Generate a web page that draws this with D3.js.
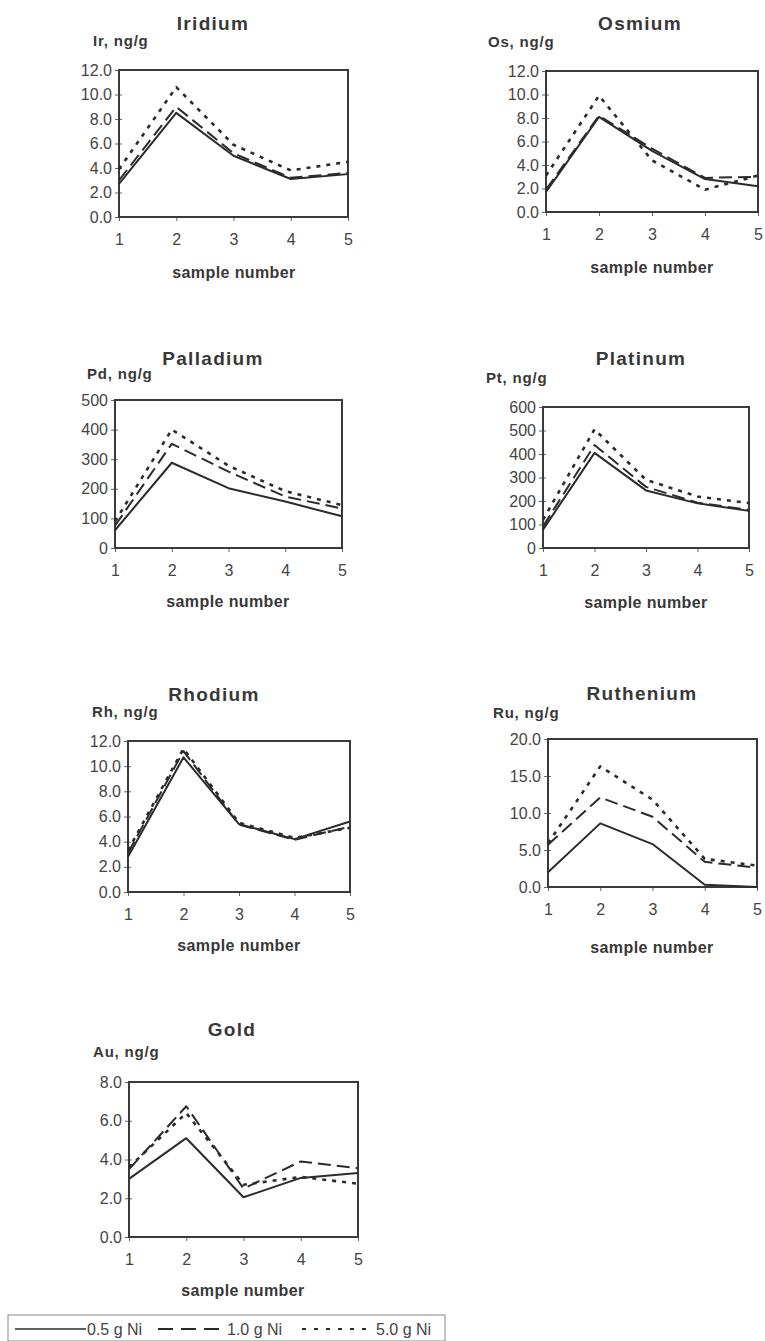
<!DOCTYPE html>
<html>
<head>
<meta charset="utf-8">
<script src="https://cdn.jsdelivr.net/npm/d3@7"></script>
<style>
  body { margin: 0; background: #fff; }
  svg { display: block; font-family: "Liberation Sans", Arial, sans-serif; }
</style>
</head>
<body>
<div id="graphZone"></div>
<script>
/************************************ Data *******************************/
var samples = [1, 2, 3, 4, 5];
var seriesNames = ["0.5 g Ni", "1.0 g Ni", "5.0 g Ni"];

var elementNames = ["Iridium", "Osmium", "Palladium", "Platinum", "Rhodium", "Ruthenium", "Gold"];
var unitLabels = ["Ir, ng/g", "Os, ng/g", "Pd, ng/g", "Pt, ng/g", "Rh, ng/g", "Ru, ng/g", "Au, ng/g"];

var iridiumTicks = [0, 2, 4, 6, 8, 10, 12];
var osmiumTicks = [0, 2, 4, 6, 8, 10, 12];
var palladiumTicks = [0, 100, 200, 300, 400, 500];
var platinumTicks = [0, 100, 200, 300, 400, 500, 600];
var rhodiumTicks = [0, 2, 4, 6, 8, 10, 12];
var rutheniumTicks = [0, 5, 10, 15, 20];
var goldTicks = [0, 2, 4, 6, 8];

// one row per series: 0.5 g Ni, 1.0 g Ni, 5.0 g Ni
var iridium = [
  [2.7, 8.5, 5.0, 3.1, 3.5],
  [3.0, 9.0, 5.2, 3.2, 3.6],
  [3.9, 10.6, 5.9, 3.8, 4.5]
];
var osmium = [
  [1.7, 8.1, 5.2, 2.8, 2.2],
  [1.9, 8.2, 5.4, 2.9, 3.0],
  [3.1, 9.9, 4.4, 1.9, 3.1]
];
var palladium = [
  [60, 288, 202, 157, 107],
  [75, 352, 258, 174, 133],
  [90, 400, 278, 192, 145]
];
var platinum = [
  [78, 405, 245, 190, 158],
  [92, 438, 260, 193, 162],
  [120, 505, 290, 219, 191]
];
var rhodium = [
  [2.8, 10.7, 5.4, 4.2, 5.6],
  [3.1, 11.2, 5.35, 4.15, 5.2],
  [3.3, 11.4, 5.5, 4.3, 5.1]
];
var ruthenium = [
  [2.0, 8.6, 5.8, 0.3, 0.0],
  [5.7, 12.1, 9.5, 3.4, 2.6],
  [5.9, 16.3, 11.8, 3.8, 2.9]
];
var gold = [
  [3.0, 5.1, 2.05, 3.05, 3.3],
  [3.5, 6.75, 2.5, 3.9, 3.55],
  [3.6, 6.4, 2.7, 3.1, 2.75]
];

var elementData = [iridium, osmium, palladium, platinum, rhodium, ruthenium, gold];
var elementTicks = [iridiumTicks, osmiumTicks, palladiumTicks, platinumTicks, rhodiumTicks, rutheniumTicks, goldTicks];
var tickFormats = [".1f", ".1f", "d", "d", ".1f", ".1f", ".1f"];

/************************************ Layout *******************************/
// plot boxes: left, top, right, bottom ; title centre ; unit label start ; x-label centre
var panels = [
  {box: [119, 70, 348, 217],  title: [213, 23],  unit: [93, 41],   xlab: [234, 272]},
  {box: [546, 71, 758, 212],  title: [640, 23],  unit: [488, 42],  xlab: [652, 267]},
  {box: [115, 400, 342, 548], title: [213, 358], unit: [87, 374],  xlab: [228, 601]},
  {box: [543, 407, 749, 548], title: [641, 358], unit: [486, 378], xlab: [646, 602]},
  {box: [128, 741, 350, 892], title: [214, 694], unit: [92, 712],  xlab: [239, 945]},
  {box: [548, 739, 757, 887], title: [642, 693], unit: [493, 713], xlab: [652, 947]},
  {box: [129, 1082, 358, 1237], title: [232, 1029], unit: [93, 1052], xlab: [243, 1290]}
];

var lineStyles = [
  {dash: null, width: 2},
  {dash: "13,6", width: 2},
  {dash: "4,6", width: 2.6}
];

var ink = "#2b2b2b";
var textInk = "#383838";

/************************************ Draw *******************************/
var svg = d3.select("#graphZone").append("svg")
  .attr("width", 765)
  .attr("height", 1341);

svg.append("rect").attr("width", 765).attr("height", 1341).attr("fill", "#fff");

panels.forEach(function(p, i) {
  var g = svg.append("g");
  var ticks = elementTicks[i];
  var x = d3.scaleLinear().domain([1, 5]).range([p.box[0], p.box[2]]);
  var y = d3.scaleLinear().domain([0, d3.max(ticks)]).range([p.box[3], p.box[1]]);

  // title and unit label
  g.append("text")
    .attr("x", p.title[0]).attr("y", p.title[1])
    .attr("dy", "0.35em")
    .attr("text-anchor", "middle")
    .style("font-size", "19px").style("font-weight", "bold")
    .style("letter-spacing", "1.3px")
    .style("fill", textInk)
    .text(elementNames[i]);

  g.append("text")
    .attr("x", p.unit[0]).attr("y", p.unit[1])
    .attr("dy", "0.35em")
    .style("font-size", "15px").style("font-weight", "bold")
    .style("letter-spacing", "0.8px")
    .style("fill", textInk)
    .text(unitLabels[i]);

  // axes
  var yAxis = g.append("g")
    .attr("transform", "translate(" + p.box[0] + ",0)")
    .call(d3.axisLeft(y).tickValues(ticks).tickSize(4).tickPadding(3).tickFormat(d3.format(tickFormats[i])));
  var xAxis = g.append("g")
    .attr("transform", "translate(0," + p.box[3] + ")")
    .call(d3.axisBottom(x).tickValues(samples).tickSize(4).tickPadding(13).tickFormat(d3.format("d")));

  [yAxis, xAxis].forEach(function(a) {
    a.select(".domain").remove();
    a.selectAll("line").attr("stroke", "#666").attr("stroke-width", 1);
    a.selectAll("text")
      .style("font-size", "16px")
      .style("font-family", "\"Liberation Sans\", Arial, sans-serif")
      .style("fill", "#444");
  });
  // y ticks cross the frame slightly
  yAxis.selectAll("line").attr("x2", -4).attr("x1", 3);

  // frame
  g.append("rect")
    .attr("x", p.box[0]).attr("y", p.box[1])
    .attr("width", p.box[2] - p.box[0])
    .attr("height", p.box[3] - p.box[1])
    .attr("fill", "none")
    .attr("stroke", "#3a3a3a")
    .attr("stroke-width", 2);

  // series
  var line = d3.line()
    .x(function(d, j) { return x(samples[j]); })
    .y(function(d) { return y(d); });

  elementData[i].forEach(function(vals, s) {
    g.append("path")
      .datum(vals)
      .attr("d", line)
      .attr("fill", "none")
      .attr("stroke", ink)
      .attr("stroke-width", lineStyles[s].width)
      .attr("stroke-dasharray", lineStyles[s].dash)
      .attr("stroke-linejoin", "round");
  });

  // x label
  g.append("text")
    .attr("x", p.xlab[0]).attr("y", p.xlab[1])
    .attr("dy", "0.35em")
    .attr("text-anchor", "middle")
    .style("font-size", "16px").style("font-weight", "bold")
    .style("letter-spacing", "0.4px")
    .style("fill", textInk)
    .text("sample number");
});

/************************************ Legend *******************************/
var legend = svg.append("g");
legend.append("rect")
  .attr("x", 8).attr("y", 1315)
  .attr("width", 437).attr("height", 26)
  .attr("fill", "none")
  .attr("stroke", "#888")
  .attr("stroke-width", 1);

var legendItems = [
  {x1: 15, x2: 86, tx: 87},
  {x1: 158, x2: 220, tx: 227},
  {x1: 302, x2: 374, tx: 376}
];

legendItems.forEach(function(it, s) {
  legend.append("line")
    .attr("x1", it.x1).attr("x2", it.x2)
    .attr("y1", 1329).attr("y2", 1329)
    .attr("stroke", ink)
    .attr("stroke-width", s === 0 ? 1.5 : 2)
    .attr("stroke-dasharray", s === 1 ? "15,8" : (s === 2 ? "4,8" : null));
  legend.append("text")
    .attr("x", it.tx).attr("y", 1329)
    .attr("dy", "0.35em")
    .style("font-size", "16px")
    .style("fill", "#444")
    .text(seriesNames[s]);
});
</script>
</body>
</html>
